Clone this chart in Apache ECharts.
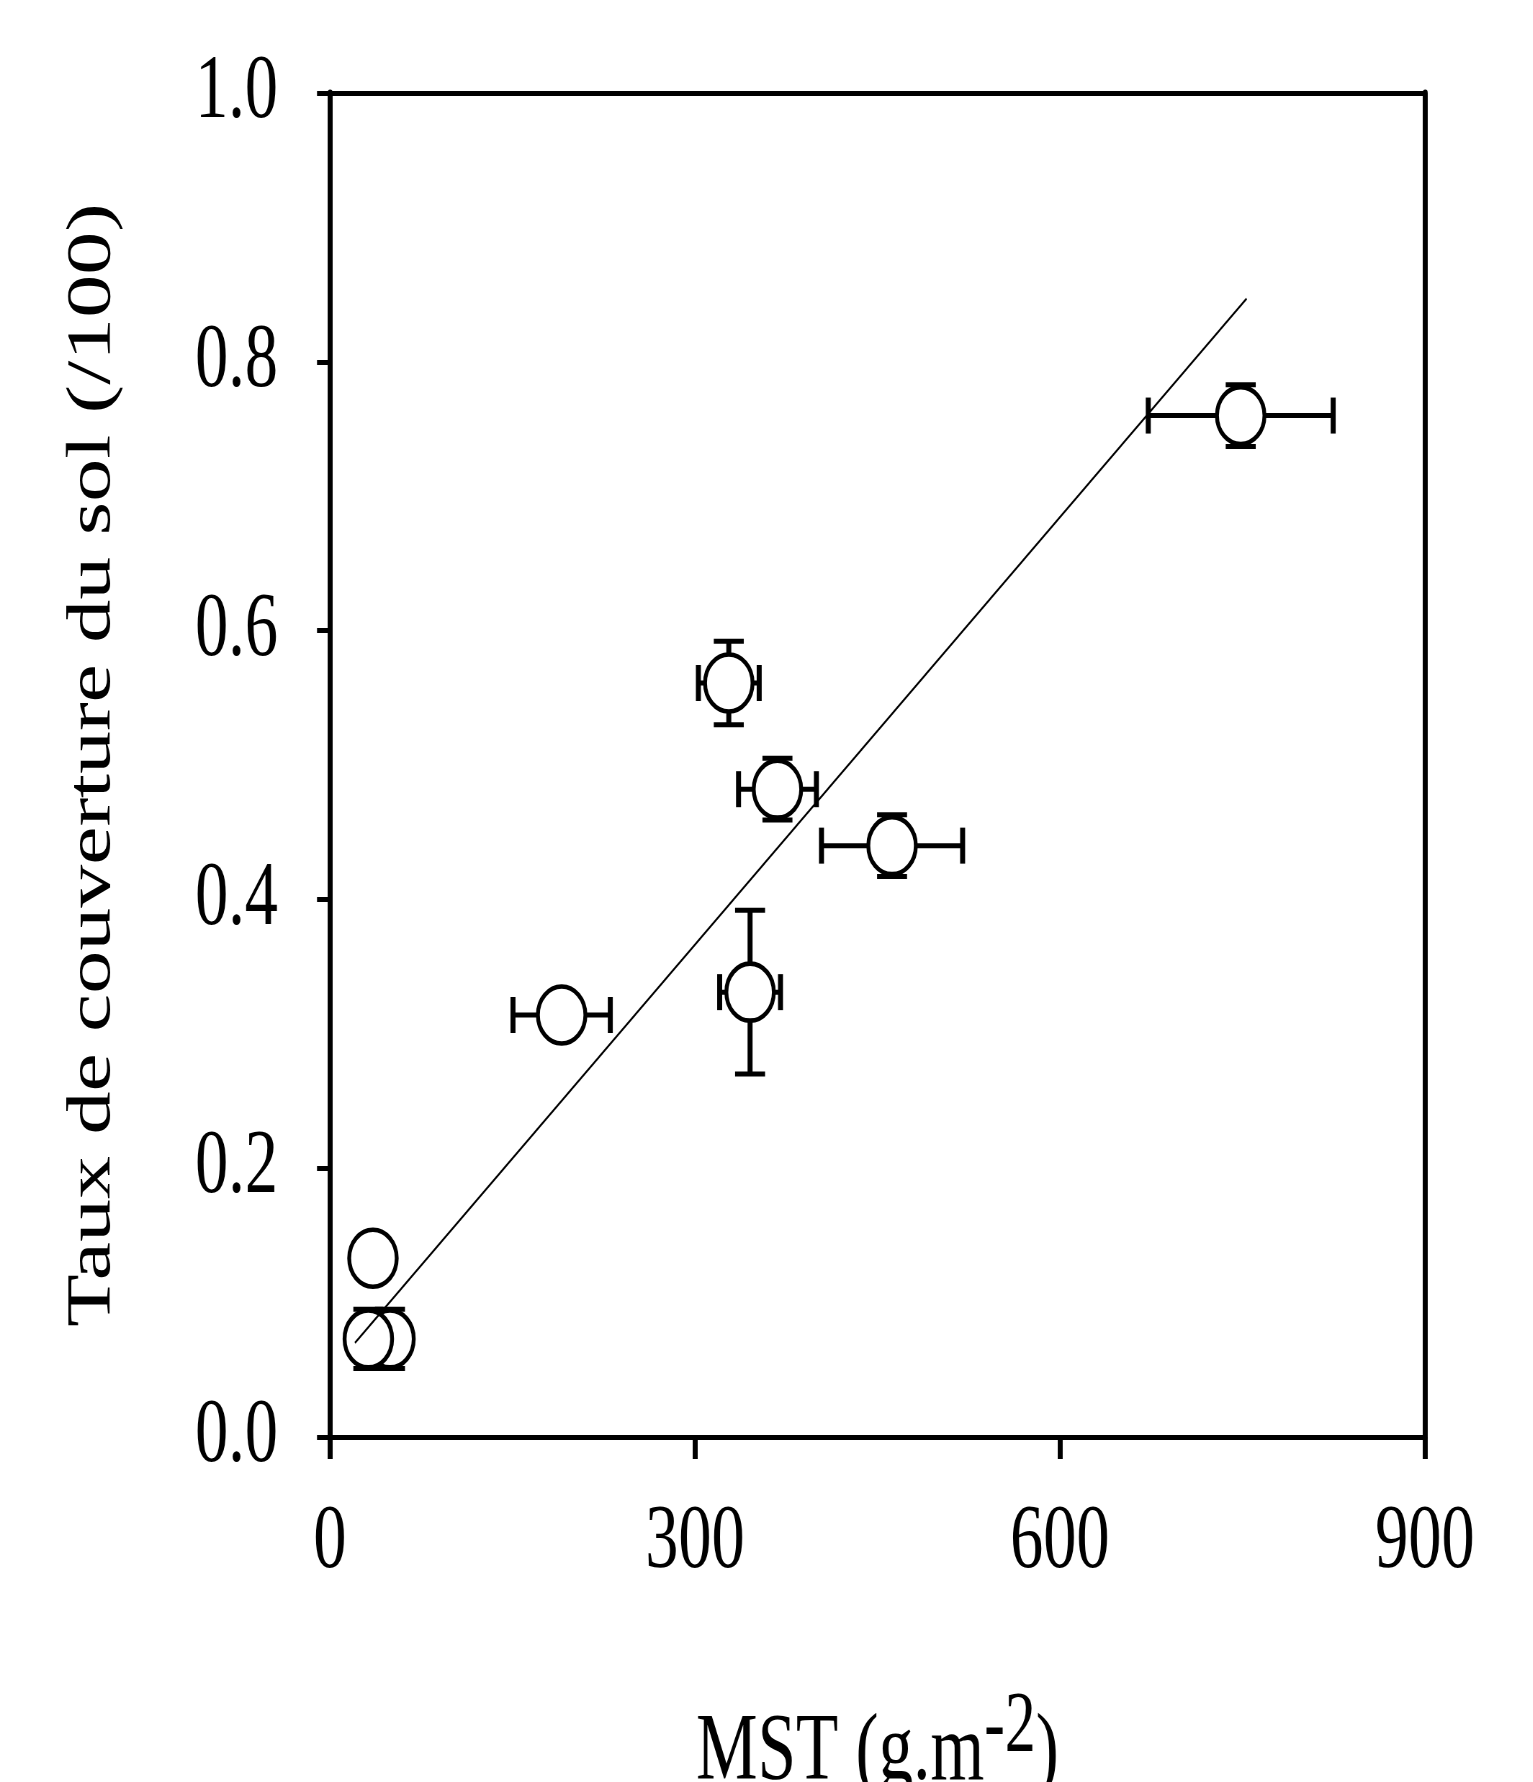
<!DOCTYPE html>
<html>
<head>
<meta charset="utf-8">
<title>MST vs taux de couverture</title>
<script src="https://cdn.jsdelivr.net/npm/echarts@6/dist/echarts.min.js"></script>
<style>
    html, body { margin: 0; padding: 0; background: #fff; overflow: hidden; }
    #chart { transform-origin: 0 0; }
</style>
</head>
<body>
<div id="chart"></div>
<script>
// Data
const mst = [49.3, 31.5, 35.3, 190.4, 327.8, 345.3, 367.8, 462.0, 748.6];
const cover = [0.073, 0.073, 0.133, 0.314, 0.561, 0.331, 0.482, 0.440, 0.760];
const mstErr = [0, 0, 0, 40, 25, 25, 32, 58, 76];
const coverErr = [0.022, 0.022, 0, 0, 0.031, 0.061, 0.023, 0.023, 0.023];
const fitX = [20.5, 753.4];
const fitY = [0.070, 0.847];
const xTicks = [0, 300, 600, 900];
const yTicks = [0.0, 0.2, 0.4, 0.6, 0.8, 1.0];

// Layout (screen px). The old figure is squeezed sideways, so the chart is
// drawn wider and squeezed back with a css scaleX.
const CONFIG = {
    W: 1533,
    H: 1782,
    SX: 0.72,
    LEFT: 330,
    RIGHT: 1425,
    TOP: 93,
    BOTTOM: 1437,
    FONT: 'Liberation Serif'
};

const SX = CONFIG.SX;
const ecW = CONFIG.W / SX;

const dom = document.getElementById('chart');
dom.style.width = ecW + 'px';
dom.style.height = CONFIG.H + 'px';
dom.style.transform = `scaleX(${SX})`;

const points = mst.map((x, i) => [x, cover[i], mstErr[i], coverErr[i]]);
const fitLine = fitX.map((x, i) => [x, fitY[i]]);

function errorBars(params, api) {
    const x = api.value(0), y = api.value(1);
    const ex = api.value(2), ey = api.value(3);
    const style = {stroke: '#000', lineWidth: 5};
    const vStyle = {stroke: '#000', lineWidth: 5 / SX};
    const children = [];
    if (ex > 0) {
        const l = api.coord([x - ex, y]);
        const r = api.coord([x + ex, y]);
        children.push({type: 'line', shape: {x1: l[0], y1: l[1], x2: r[0], y2: r[1]}, style: style});
        children.push({type: 'line', shape: {x1: l[0], y1: l[1] - 18, x2: l[0], y2: l[1] + 18}, style: vStyle});
        children.push({type: 'line', shape: {x1: r[0], y1: r[1] - 18, x2: r[0], y2: r[1] + 18}, style: vStyle});
    }
    if (ey > 0) {
        const t = api.coord([x, y + ey]);
        const b = api.coord([x, y - ey]);
        const hw = 15 / SX;
        children.push({type: 'line', shape: {x1: t[0], y1: t[1], x2: b[0], y2: b[1]}, style: vStyle});
        children.push({type: 'line', shape: {x1: t[0] - hw, y1: t[1], x2: t[0] + hw, y2: t[1]}, style: style});
        children.push({type: 'line', shape: {x1: b[0] - hw, y1: b[1], x2: b[0] + hw, y2: b[1]}, style: style});
    }
    return {type: 'group', children: children};
}

const labelFont = {fontFamily: CONFIG.FONT, fontSize: 92, color: '#000'};
const hidden = {show: false};

const option = {
    animation: false,
    backgroundColor: '#fff',
    grid: {
        left: CONFIG.LEFT / SX,
        right: ecW - CONFIG.RIGHT / SX,
        top: CONFIG.TOP,
        bottom: CONFIG.H - CONFIG.BOTTOM,
        containLabel: false,
        outerBoundsMode: 'none'
    },
    xAxis: [{
        type: 'value',
        min: xTicks[0],
        max: xTicks[xTicks.length - 1],
        interval: xTicks[1] - xTicks[0],
        splitLine: hidden,
        axisLine: {lineStyle: {color: '#000', width: 5}},
        axisTick: {inside: false, length: 22, lineStyle: {color: '#000', width: 5 / SX}},
        axisLabel: Object.assign({margin: 60}, labelFont),
        name: 'MST (g.m{sup|-2})',
        nameLocation: 'middle',
        nameGap: 248,
        nameTextStyle: Object.assign({
            rich: {
                sup: {fontFamily: CONFIG.FONT, fontSize: 86, color: '#000', padding: [0, 0, 52, 0]}
            }
        }, labelFont, {fontSize: 96})
    }, {
        type: 'value',
        position: 'top',
        min: 0,
        max: 900,
        axisLine: {onZero: false, lineStyle: {color: '#000', width: 5}},
        axisTick: hidden,
        axisLabel: hidden,
        splitLine: hidden
    }],
    yAxis: [{
        type: 'value',
        min: yTicks[0],
        max: yTicks[yTicks.length - 1],
        interval: 0.2,
        splitLine: hidden,
        axisLine: {lineStyle: {color: '#000', width: 5 / SX}},
        axisTick: {inside: false, length: 13 / SX, lineStyle: {color: '#000', width: 5}},
        axisLabel: Object.assign({margin: 52 / SX, formatter: v => v.toFixed(1)}, labelFont),
        name: 'Taux de couverture du sol (/100)',
        nameLocation: 'middle',
        nameRotate: 90,
        nameGap: 206 / SX,
        nameTextStyle: {fontFamily: CONFIG.FONT, fontSize: 86, color: '#000'}
    }, {
        type: 'value',
        position: 'right',
        min: 0,
        max: 1,
        axisLine: {show: true, onZero: false, lineStyle: {color: '#000', width: 5 / SX}},
        axisTick: hidden,
        axisLabel: hidden,
        splitLine: hidden
    }],
    series: [{
        type: 'custom',
        z: 2,
        renderItem: errorBars,
        data: points
    }, {
        type: 'scatter',
        z: 3,
        symbol: 'path://M0,-50A50,50,0,1,1,0,50A50,50,0,1,1,0,-50Z',
        symbolSize: [66, 57],
        itemStyle: {color: '#fff', borderColor: '#000', borderWidth: 5, opacity: 1},
        data: points.map(p => [p[0], p[1]])
    }, {
        type: 'line',
        z: 4,
        symbol: 'none',
        lineStyle: {color: '#000', width: 2.2},
        data: fitLine
    }]
};

const myChart = echarts.init(dom, null, {renderer: 'canvas'});
myChart.setOption(option);
</script>
</body>
</html>
